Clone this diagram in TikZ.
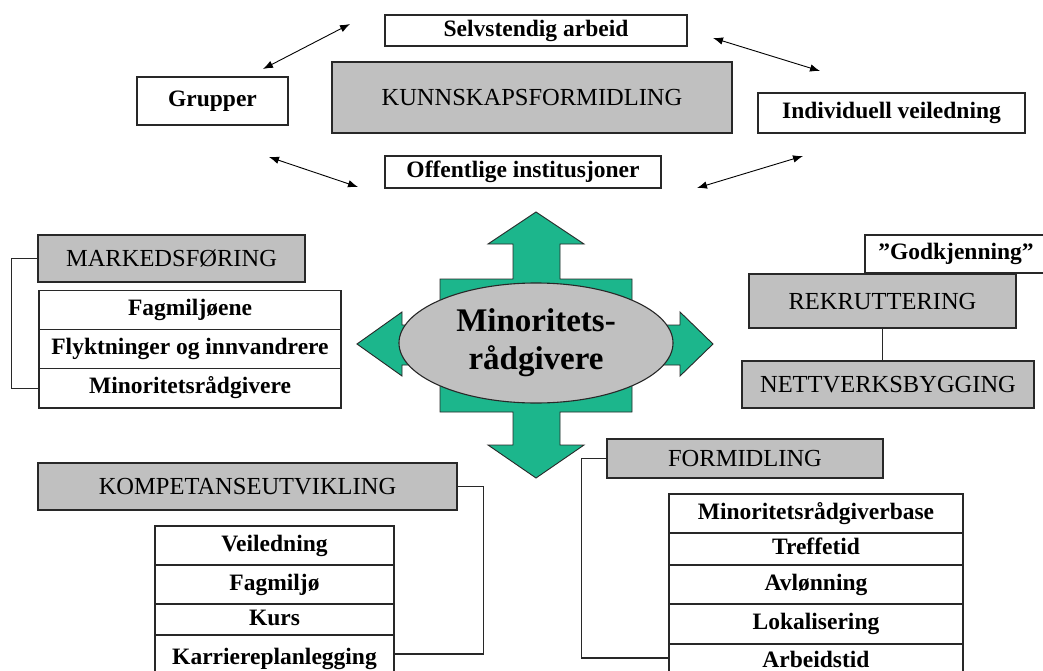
\documentclass[tikz,border=0pt]{standalone}
\usepackage{fontspec}
\setmainfont{Liberation Serif}
\usetikzlibrary{shapes.geometric,arrows.meta}
\definecolor{boxgray}{RGB}{192,192,192}
\definecolor{qgreen}{RGB}{28,182,140}
\definecolor{edge}{RGB}{40,40,40}
\newcommand{\bfs}{\fontsize{23.5}{27}\selectfont\bfseries}
\newcommand{\cfs}{\fontsize{24.5}{28}\selectfont}
\newcommand{\efs}{\fontsize{33}{38}\selectfont\bfseries}
\begin{document}
\begin{tikzpicture}[x=1pt,y=-1pt,
  box/.style={draw=edge, line width=1.1pt, inner sep=0pt, align=center, text height=16pt, text depth=4.7pt},
  graybox/.style={box, fill=boxgray, font=\cfs, text height=17pt, text depth=0.7pt},
  whitebox/.style={box, fill=white, font=\bfs},
  sz/.style 2 args={minimum width=#1pt, minimum height=#2pt},
  link/.style={draw=edge, line width=1.4pt},
  dbl/.style={draw=black, line width=0.9pt, {Latex[length=10pt,width=7.5pt]}-{Latex[length=10pt,width=7.5pt]}},
  quad/.style={fill=qgreen, draw=edge, line width=0.9pt, line join=miter},
  hub/.style={ellipse, draw=edge, line width=1.1pt, fill=boxgray, inner sep=0pt, align=center, font=\efs}
]
\useasboundingbox[fill=white] (0,0) rectangle (1043,671);

% ---- top cluster ----
\node[whitebox, sz={302}{31}] (selv) at (536,30.5) {Selvstendig arbeid};
\node[graybox, sz={400}{71}] (kunn) at (532,97.5) {KUNNSKAPSFORMIDLING};
\node[whitebox, sz={151}{48}] (grup) at (212.5,101) {Grupper};
\node[whitebox, sz={276}{32}] (offe) at (523,172) {Offentlige institusjoner};
\node[whitebox, sz={267}{40}] (indi) at (891.5,113) {Individuell veiledning};

\coordinate (a1s) at (263,69);  \coordinate (a1e) at (350,24);
\coordinate (a2s) at (269,157); \coordinate (a2e) at (358,187);
\coordinate (a3s) at (713,38);  \coordinate (a3e) at (820,71);
\coordinate (a4s) at (697,188); \coordinate (a4e) at (803,156);
\draw[dbl] (a1s) -- (a1e);
\draw[dbl] (a2s) -- (a2e);
\draw[dbl] (a3s) -- (a3e);
\draw[dbl] (a4s) -- (a4e);

% ---- central quad arrow and hub ----
\draw[quad] (536,212) -- (584,244) -- (560,244) -- (560,279) -- (632,279) -- (632,325)
  -- (680,325) -- (680,312) -- (713,344) -- (680,376) -- (680,365) -- (632,365)
  -- (632,412) -- (560,412) -- (560,445) -- (584,445) -- (536,478) -- (488,445)
  -- (513,445) -- (513,412) -- (440,412) -- (440,365) -- (402,365) -- (402,376)
  -- (357,344) -- (402,312) -- (402,325) -- (440,325) -- (440,279) -- (513,279)
  -- (513,244) -- (488,244) -- cycle;
\node[hub, minimum width=274pt, minimum height=120pt] (hub) at (536,343) {\raisebox{-3pt}{Minoritets-}\\\raisebox{-3pt}{rådgivere}};

% ---- left: markedsføring ----
\node[graybox, sz={267}{47}] (mark) at (171.5,258.5) {MARKEDSFØRING};
\node[whitebox, sz={302}{39.3}] (mf1) at (190,309.7) {Fagmiljøene};
\node[whitebox, sz={302}{39.3}] (mf2) at (190,349) {Flyktninger og innvandrere};
\node[whitebox, sz={302}{39.3}] (mf3) at (190,388.3) {Minoritetsrådgivere};
\draw[link] (mark.west) -- ++(-26,0) |- (mf3.west);

% ---- right: rekruttering ----
\node[whitebox, sz={190}{38}] (godk) at (960,254) {\hspace*{-8pt}”Godkjenning”};
\node[graybox, sz={267}{54}] (rekr) at (882.5,301) {REKRUTTERING};
\node[graybox, sz={292}{47}] (nett) at (888,384.5) {NETTVERKSBYGGING};
\draw[link] (rekr.south) -- (rekr.south |- nett.north);

% ---- bottom left: kompetanseutvikling ----
\node[graybox, sz={419}{47}] (komp) at (247.5,486.5) {KOMPETANSEUTVIKLING};
\node[whitebox, sz={239}{39}] (ku1) at (274.5,545.5) {Veiledning};
\node[whitebox, sz={239}{39}] (ku2) at (274.5,584.5) {Fagmiljø};
\node[whitebox, sz={239}{31}] (ku3) at (274.5,619.5) {Kurs};
\node[whitebox, sz={239}{48}] (ku4) at (274.5,659) {Karriereplanlegging};
\draw[link] (komp.east) -- ++(26,0) |- ([yshift=5pt]ku4.east);

% ---- bottom right: formidling ----
\node[graybox, sz={276}{39}] (form) at (745,458.5) {FORMIDLING};
\node[whitebox, sz={294}{39}] (fo1) at (816,513.5) {Minoritetsrådgiverbase};
\node[whitebox, sz={294}{32}] (fo2) at (816,549) {Treffetid};
\node[whitebox, sz={294}{39}] (fo3) at (816,584.5) {Avlønning};
\node[whitebox, sz={294}{40}] (fo4) at (816,624) {Lokalisering};
\node[whitebox, sz={294}{36}] (fo5) at (816,662) {Arbeidstid};
\draw[link] (form.west) -- ++(-25,0) |- ([yshift=4pt]fo5.west);
\end{tikzpicture}
\end{document}
